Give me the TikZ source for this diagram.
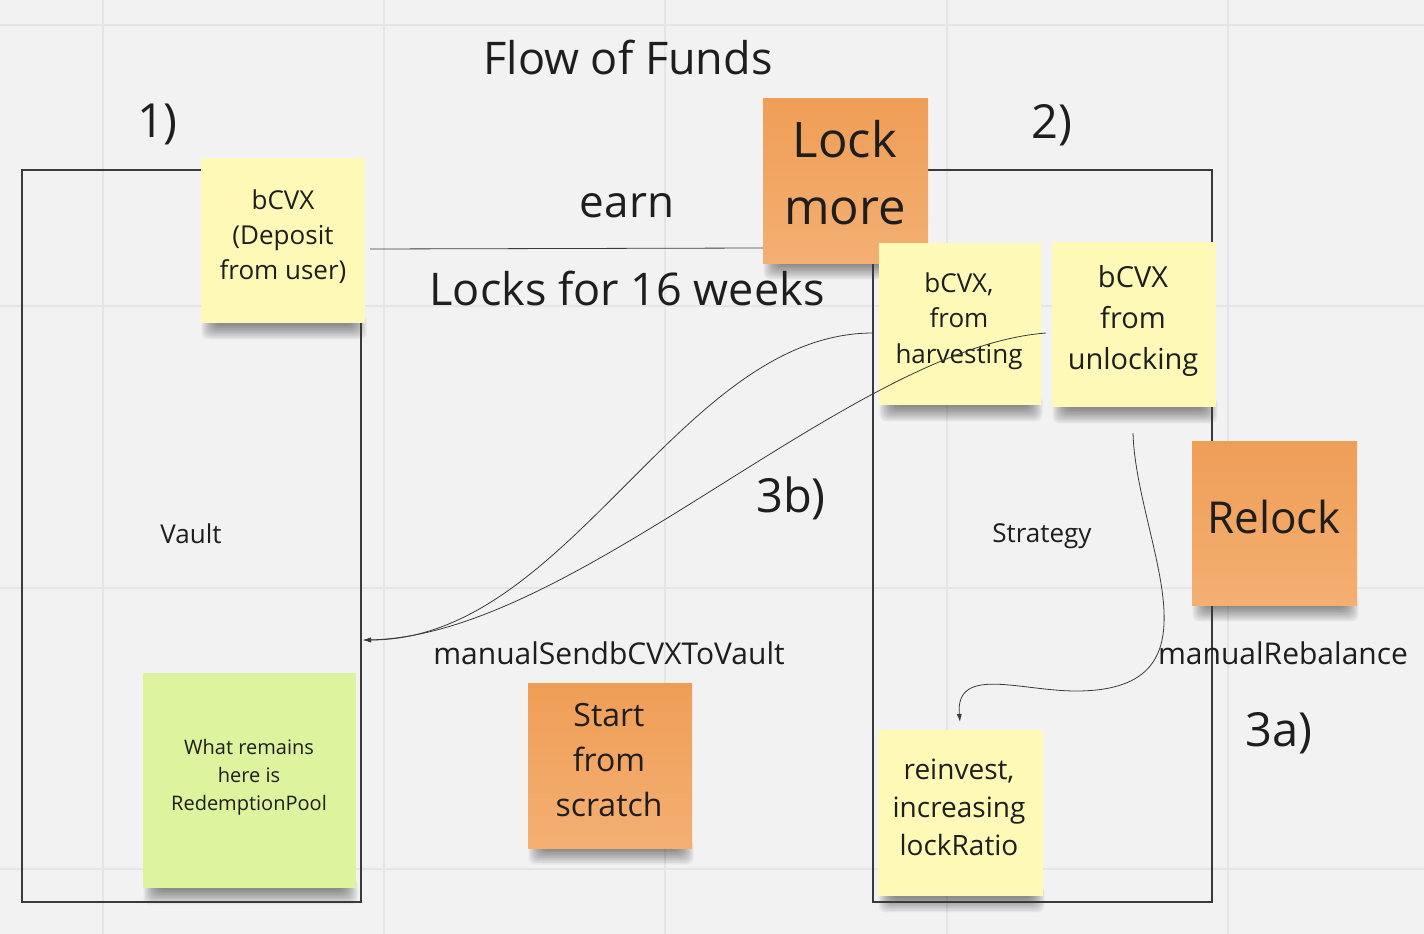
\documentclass[tikz,border=0pt]{standalone}
\usepackage{fontspec}
\setmainfont{Open Sans}
\usetikzlibrary{arrows.meta}
\pgfdeclarelayer{bg}
\pgfdeclarelayer{shad}
\pgfsetlayers{bg,shad,main}
\definecolor{bgc}{HTML}{F2F2F2}
\definecolor{gridc}{HTML}{E5E5E5}
\definecolor{ylw}{HTML}{FFF9B7}
\definecolor{orgtop}{HTML}{EF9E56}
\definecolor{orgbot}{HTML}{F4AF72}
\definecolor{grn}{HTML}{DDF39D}
\definecolor{ink}{HTML}{1E1E1E}
\definecolor{linec}{HTML}{3A3A3A}
\newcommand\noteshadow[1]{%
  \begin{pgfonlayer}{shad}
  \foreach \i in {0,...,9}{%
    \fill[black,opacity=0.05,rounded corners=7pt]
      ([xshift={(14-1.5*\i)*1pt},yshift=10pt]#1.south west) rectangle
      ([xshift={(-12+1.5*\i)*1pt},yshift={(-2-1.6*\i)*1pt}]#1.south east);
  }
  \end{pgfonlayer}}
\begin{document}
\begin{tikzpicture}[x=1pt,y=-1pt,
  container/.style={draw=linec,line width=1.4pt,inner sep=0pt,outer sep=0pt},
  note/.style={inner sep=0pt,outer sep=0pt},
  yellownote/.style={note,fill=ylw},
  orangenote/.style={note,top color=orgtop,bottom color=orgbot},
  greennote/.style={note,fill=grn},
  txt/.style={text=ink,align=center,inner sep=0pt},
  conn/.style={draw=linec,line width=0.8pt},
  tip/.style={-{Latex[length=8pt,width=5pt]}}]
\useasboundingbox (0,0) rectangle (1424,934);
\begin{pgfonlayer}{bg}
  \fill[bgc] (0,0) rectangle (1424,934);
  \foreach \gx in {103,384,665,947,1228} \draw[gridc,line width=2pt] (\gx,0) -- (\gx,934);
  \foreach \gy in {25,306,588,869} \draw[gridc,line width=2pt] (0,\gy) -- (1424,\gy);
\end{pgfonlayer}

% containers
\node[container,minimum width=339pt,minimum height=732pt] (vault) at (191.5,536) {};
\node[container,minimum width=339pt,minimum height=732pt] (strategy) at (1042.5,536) {};
\node[txt,font=\fontsize{26}{32}\selectfont] (vaultlbl) at (191,534) {Vault};
\node[txt,font=\fontsize{26}{32}\selectfont] (stratlbl) at (1042,536) {Strategy};

% free texts
\node[txt,font=\fontsize{45}{50}\selectfont] (title) at (628,58) {Flow of Funds};
\node[txt,font=\fontsize{47}{50}\selectfont] (one) at (157.5,124) {1)};
\node[txt,font=\fontsize{47}{50}\selectfont] (two) at (1052,125) {2)};
\node[txt,font=\fontsize{44}{50}\selectfont] (earn) at (627,206) {earn};
\node[txt,font=\fontsize{45}{50}\selectfont] (locks) at (627,289) {Locks for 16 weeks};
\node[txt,font=\fontsize{47}{50}\selectfont] (threeb) at (791,498) {3b)};
\node[txt,font=\fontsize{47}{50}\selectfont] (threea) at (1279,733) {3a)};
\node[txt,font=\fontsize{30}{36}\selectfont] (msend) at (609,653) {manualSendbCVXToVault};

% notes
\node[yellownote,minimum width=164pt,minimum height=165pt] (dep) at (283,240.5) {};
\node[orangenote,minimum width=165pt,minimum height=165pt] (lock) at (845.5,180.5) {};
\node[yellownote,minimum width=162pt,minimum height=162pt] (harv) at (960,324) {};
\node[yellownote,minimum width=164pt,minimum height=165pt] (unl) at (1134,324.5) {};
\node[orangenote,minimum width=165pt,minimum height=164pt] (rel) at (1274.5,523) {};
\node[yellownote,minimum width=165pt,minimum height=166pt] (rei) at (960.5,813) {};
\node[orangenote,minimum width=164pt,minimum height=165pt] (start) at (610,765.5) {};
\node[greennote,minimum width=213pt,minimum height=215pt] (pool) at (249.5,780.5) {};
\noteshadow{dep}\noteshadow{lock}\noteshadow{harv}\noteshadow{unl}
\noteshadow{rel}\noteshadow{rei}\noteshadow{start}\noteshadow{pool}

\node[txt,font=\fontsize{26}{35}\selectfont] (deptxt) at (283,237) {bCVX\\(Deposit\\from user)};
\node[txt,font=\fontsize{49}{67}\selectfont] (locktxt) at (845,173) {Lock\\more};
\node[txt,font=\fontsize{26}{35.5}\selectfont] (harvtxt) at (959,321) {bCVX,\\from\\harvesting};
\node[txt,font=\fontsize{29}{41}\selectfont] (unltxt) at (1133,321) {bCVX\\from\\unlocking};
\node[txt,font=\fontsize{44}{50}\selectfont] (reltxt) at (1274,517) {Relock};
\node[txt,font=\fontsize{28}{38}\selectfont] (reitxt) at (959,807) {reinvest,\\increasing\\lockRatio};
\node[txt,font=\fontsize{32}{45}\selectfont] (starttxt) at (609,760) {Start\\from\\scratch};
\node[txt,font=\fontsize{20}{28}\selectfont] (pooltxt) at (249,777) {What remains\\here is\\RedemptionPool};

\node[txt,font=\fontsize{30}{36}\selectfont] (mreb) at (1283,653) {manualRebalance};

% connectors
\coordinate (a1) at (370,249);
\coordinate (a2) at (763,248);
\draw[conn] (a1) -- (a2);

\coordinate (vin) at (363,640);
\coordinate (s1) at (873,333);
\coordinate (s2) at (1046,333);
\draw[conn,tip] (s1) .. controls (680,333) and (570,640) .. (vin);
\draw[conn,tip] (s2) .. controls (850,348) and (575,636) .. (vin);

\coordinate (u1) at (1133,433);
\coordinate (mid) at (1076,691);
\coordinate (r1) at (960,722);
\draw[conn,tip] (u1) .. controls (1136,540) and (1230,691) .. (mid)
  .. controls (1020,691) and (955,665) .. (r1);
\end{tikzpicture}
\end{document}
